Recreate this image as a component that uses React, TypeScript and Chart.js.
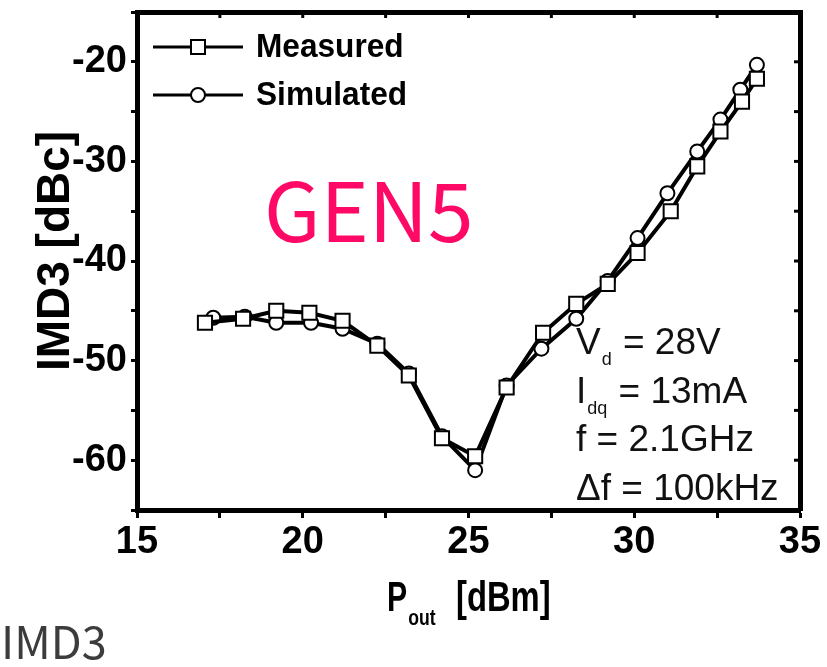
import React, { useEffect, useRef } from "react";
import { Chart, registerables } from "chart.js";

Chart.register(...registerables);

// ---- data ----
const P_MEASURED = [17.05, 18.2, 19.2, 20.2, 21.2, 22.25, 23.2, 24.2, 25.2, 26.15, 27.25, 28.25, 29.2, 30.1, 31.1, 31.9, 32.6, 33.25, 33.7];
const IMD3_MEASURED = [-46.2, -45.8, -45.0, -45.2, -46.0, -48.5, -51.5, -57.8, -59.6, -52.7, -47.2, -44.3, -42.3, -39.2, -35.0, -30.5, -27.0, -24.0, -21.7];
const P_SIMULATED = [17.3, 18.25, 19.2, 20.25, 21.2, 22.25, 23.2, 24.2, 25.2, 26.15, 27.2, 28.25, 29.2, 30.1, 31.0, 31.9, 32.6, 33.2, 33.7];
const IMD3_SIMULATED = [-45.7, -45.6, -46.2, -46.2, -46.8, -48.3, -51.3, -57.6, -61.0, -52.5, -48.8, -45.8, -42.0, -37.7, -33.2, -29.0, -25.8, -22.8, -20.3];

const X_TICK_LABELS = [15, 20, 25, 30, 35];
const Y_TICK_LABELS = [-20, -30, -40, -50, -60];
const SERIES_NAMES = ["Measured", "Simulated"];
const PARAM_LINES = [
  { main: "V", sub: "d", rest: " = 28V" },
  { main: "I", sub: "dq", rest: " = 13mA" },
  { main: "f = 2.1GHz", sub: "", rest: "" },
  { main: "\u0394f = 100kHz", sub: "", rest: "" },
];
const WATERMARK = "GEN5";
const CAPTION = "IMD3";
const X_TITLE = { main: "P", sub: "out", rest: "[dBm]" };
const Y_TITLE = "IMD3 [dBc]";

const SANS = '"Liberation Sans", Arial, Helvetica, sans-serif';
const CJK = '"Noto Sans CJK SC", "Noto Sans", sans-serif';

const W = 827;
const H = 667;

function condensedText(ctx: CanvasRenderingContext2D, text: string, x: number, y: number, sx: number) {
  ctx.save();
  ctx.translate(x, y);
  ctx.scale(sx, 1);
  ctx.fillText(text, 0, 0);
  ctx.restore();
  return ctx.measureText(text).width * sx;
}

const annotatePlugin = {
  id: "annotate",
  afterDraw(chart: any) {
    const ctx = chart.ctx as CanvasRenderingContext2D;
    const xs = chart.scales.x;
    const ys = chart.scales.y;
    const { top, right } = chart.chartArea;
    ctx.save();

    // inward ticks on top and right frame
    ctx.strokeStyle = "#000";
    ctx.lineWidth = 3;
    for (let v = 15; v <= 35.001; v += 2.5) {
      const px = xs.getPixelForValue(v);
      ctx.beginPath();
      ctx.moveTo(px, top);
      ctx.lineTo(px, top + 6);
      ctx.stroke();
    }
    for (let v = -65; v <= -14.999; v += 5) {
      const py = ys.getPixelForValue(v);
      ctx.beginPath();
      ctx.moveTo(right - 6, py);
      ctx.lineTo(right, py);
      ctx.stroke();
    }

    // legend
    const legendRows = [
      { y: 47, style: "rect", textY: 57 },
      { y: 95, style: "circle", textY: 105 },
    ];
    ctx.textBaseline = "alphabetic";
    ctx.textAlign = "left";
    legendRows.forEach((row, i) => {
      ctx.strokeStyle = "#000";
      ctx.lineWidth = 3;
      ctx.beginPath();
      ctx.moveTo(153, row.y);
      ctx.lineTo(243, row.y);
      ctx.stroke();
      ctx.fillStyle = "#fff";
      ctx.lineWidth = 2;
      ctx.beginPath();
      if (row.style === "rect") ctx.rect(191, row.y - 7, 14, 14);
      else ctx.arc(198, row.y, 7, 0, Math.PI * 2);
      ctx.fill();
      ctx.stroke();
      ctx.fillStyle = "#000";
      ctx.font = `bold 34px ${SANS}`;
      condensedText(ctx, SERIES_NAMES[i], 256, row.textY, 0.93);
    });

    // parameter block
    const baselines = [354, 403, 451, 500];
    PARAM_LINES.forEach((ln, i) => {
      let x = 576;
      const b = baselines[i];
      ctx.fillStyle = "#111";
      ctx.font = `37px ${SANS}`;
      ctx.fillText(ln.main, x, b);
      x += ctx.measureText(ln.main).width;
      if (ln.sub) {
        ctx.font = `18px ${SANS}`;
        ctx.fillText(ln.sub, x + 1, b + 11);
        x += ctx.measureText(ln.sub).width + 2;
        ctx.font = `37px ${SANS}`;
        ctx.fillText(ln.rest, x, b);
      }
    });

    // x title with subscript
    ctx.fillStyle = "#000";
    ctx.font = `bold 42px ${SANS}`;
    let tx = 387;
    tx += condensedText(ctx, X_TITLE.main, tx, 611, 0.72);
    ctx.font = `bold 22px ${SANS}`;
    condensedText(ctx, X_TITLE.sub, tx + 1, 625, 0.8);
    ctx.font = `bold 42px ${SANS}`;
    condensedText(ctx, X_TITLE.rest, 456, 611, 0.78);

    // y title rotated
    ctx.save();
    ctx.translate(69, 251);
    ctx.rotate(-Math.PI / 2);
    ctx.font = `bold 46px ${SANS}`;
    ctx.textAlign = "center";
    ctx.fillText(Y_TITLE, 0, 0);
    ctx.restore();

    // watermark
    ctx.fillStyle = "#fe0a66";
    ctx.font = `82px ${CJK}`;
    ctx.textAlign = "left";
    ctx.fillText(WATERMARK, 264, 242);

    // caption
    ctx.fillStyle = "#3c3c3c";
    ctx.font = `45px ${CJK}`;
    ctx.fillText(CAPTION, 1, 659);

    ctx.restore();
  },
};

export default function App() {
  const ref = useRef<HTMLCanvasElement>(null);

  useEffect(() => {
    const prevMargin = document.body.style.margin;
    document.body.style.margin = "0";
    const canvas = ref.current!;
    const measured = P_MEASURED.map((x, i) => ({ x, y: IMD3_MEASURED[i] }));
    const simulated = P_SIMULATED.map((x, i) => ({ x, y: IMD3_SIMULATED[i] }));

    const frame = { display: true, color: "#000", width: 5 };
    const tickFontBold = { family: SANS, size: 38, weight: "bold" as const };

    const chart = new Chart(canvas, {
      type: "line",
      data: {
        datasets: [
          {
            label: SERIES_NAMES[0],
            data: measured,
            borderColor: "#000",
            borderWidth: 4,
            pointStyle: "rect",
            pointRadius: 10,
            pointBorderWidth: 2,
            pointBackgroundColor: "#fff",
            pointBorderColor: "#000",
            tension: 0,
          },
          {
            label: SERIES_NAMES[1],
            data: simulated,
            borderColor: "#000",
            borderWidth: 4,
            pointStyle: "circle",
            pointRadius: 7,
            pointBorderWidth: 2,
            pointBackgroundColor: "#fff",
            pointBorderColor: "#000",
            tension: 0,
          },
        ],
      },
      options: {
        responsive: false,
        animation: false,
        devicePixelRatio: 1,
        layout: { padding: 0 },
        plugins: { legend: { display: false }, tooltip: { enabled: false } },
        scales: {
          x: {
            type: "linear",
            position: "bottom",
            min: 15,
            max: 35,
            ticks: {
              stepSize: 2.5,
              autoSkip: false,
              maxRotation: 0,
              padding: 2,
              color: "#000",
              font: tickFontBold,
              callback: (v: any) => (X_TICK_LABELS.includes(Number(v)) ? String(v) : ""),
            },
            grid: {
              drawOnChartArea: false,
              drawTicks: true,
              tickLength: 8,
              tickWidth: 3,
              tickColor: "#000",
            },
            border: frame,
            afterFit: (s: any) => {
              s.height = 157;
              s.paddingLeft = 0;
              s.paddingRight = 0;
            },
          },
          x2: {
            type: "linear",
            position: "top",
            min: 15,
            max: 35,
            ticks: { display: false },
            grid: { drawOnChartArea: false, drawTicks: false },
            border: frame,
            afterFit: (s: any) => {
              s.height = 10;
              s.paddingLeft = 0;
              s.paddingRight = 0;
            },
          },
          y: {
            type: "linear",
            position: "left",
            min: -65,
            max: -15,
            ticks: {
              stepSize: 5,
              autoSkip: false,
              padding: 4,
              color: "#000",
              font: tickFontBold,
              callback: (v: any) => (Y_TICK_LABELS.includes(Number(v)) ? String(v) : ""),
            },
            grid: {
              drawOnChartArea: false,
              drawTicks: true,
              tickLength: 6,
              tickWidth: 3,
              tickColor: "#000",
            },
            border: frame,
            afterFit: (s: any) => {
              s.width = 137;
              s.paddingTop = 0;
              s.paddingBottom = 0;
            },
          },
          y2: {
            type: "linear",
            position: "right",
            min: -65,
            max: -15,
            ticks: { display: false },
            grid: { drawOnChartArea: false, drawTicks: false },
            border: frame,
            afterFit: (s: any) => {
              s.width = 27;
              s.paddingTop = 0;
              s.paddingBottom = 0;
            },
          },
        },
      },
      plugins: [annotatePlugin],
    });

    return () => {
      chart.destroy();
      document.body.style.margin = prevMargin;
    };
  }, []);

  return (
    <div style={{ position: "absolute", left: 0, top: 0, width: W, height: H, background: "#fff" }}>
      <canvas ref={ref} width={W} height={H} style={{ display: "block" }} />
    </div>
  );
}
